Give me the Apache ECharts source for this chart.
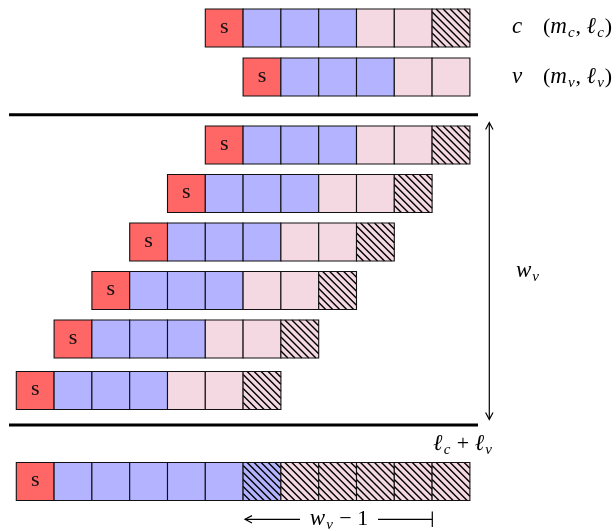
<!DOCTYPE html>
<html><head><meta charset="utf-8">
<style>html,body{margin:0;padding:0;background:#fff}#c{width:616px;height:531px}</style>
<script src="https://cdn.jsdelivr.net/npm/echarts@6/dist/echarts.min.js"></script>
</head><body><div id="c"></div>
<script>
// ---- data ----
const rowNames   = ['c', 'v', 'w1', 'w2', 'w3', 'w4', 'w5', 'w6', 'sum'];
const rowOffsets = [5, 6, 5, 4, 3, 2, 1, 0, 0];
const rowCells   = ['SBBBPPH', 'SBBBPP', 'SBBBPPH', 'SBBBPPH', 'SBBBPPH', 'SBBBPPH', 'SBBBPPH', 'SBBBPPH', 'SBBBBBXHHHHH'];
const cellLabel  = 's';

// ---- layout ----
const rowTops = [9, 58, 126, 174.5, 223, 271.5, 320, 371.5, 462.5];
const CELL_W = 37.8, CELL_H = 38, X0 = 16.3, W = 616, H = 531;
const typeStyle = {
  S: {fill: '#ff6666', hatch: false, label: true},
  B: {fill: '#b3b3ff', hatch: false},
  P: {fill: '#f5d9e2', hatch: false},
  H: {fill: '#f5d9e2', hatch: true},
  X: {fill: '#b3b3ff', hatch: true}
};
const typeKeys = Object.keys(typeStyle);

const data = [];
rowCells.forEach((cells, r) => {
  cells.split('').forEach((t, i) => {
    data.push([rowOffsets[r] + i, rowTops[r], typeKeys.indexOf(t), r]);
  });
});

const fam = 'Liberation Serif';
function renderItem(params, api) {
  const col = api.value(0), top = api.value(1), t = typeKeys[api.value(2)];
  const st = typeStyle[t];
  const p0 = api.coord([col, top]);
  const p1 = api.coord([col + 1, top + CELL_H]);
  const x = p0[0], y = p0[1], w = p1[0] - p0[0], h = p1[1] - p0[1];
  const children = [{
    type: 'rect', shape: {x, y, width: w, height: h},
    style: {fill: st.fill, stroke: 'none'}
  }];
  if (st.hatch) {
    const d = 7;
    for (let k = -Math.ceil(w / d); k <= Math.ceil(h / d); k++) {
      const c = k * d + 3;
      const u0 = Math.max(0, -c), u1 = Math.min(w, h - c);
      if (u1 - u0 > 0.5) {
        children.push({type: 'line', shape: {x1: x + u0, y1: y + u0 + c, x2: x + u1, y2: y + u1 + c},
          style: {stroke: '#000', lineWidth: 1.4}});
      }
    }
  }
  children.push({type: 'rect', shape: {x, y, width: w, height: h},
    style: {fill: 'none', stroke: '#111', lineWidth: 1.1}});
  if (st.label) {
    children.push({type: 'text', style: {text: cellLabel, x: x + w / 2, y: y + h / 2 - 1,
      align: 'center', verticalAlign: 'middle', font: 'normal 22px "Liberation Serif", serif', fill: '#111'}});
  }
  return {type: 'group', children};
}

const rich = {
  i: {fontFamily: fam, fontStyle: 'italic', fontSize: 23, lineHeight: 28, color: '#111', padding: [0, 1, 0, 0]},
  r: {fontFamily: fam, fontSize: 22, lineHeight: 28, color: '#111'},
  s: {fontFamily: fam, fontStyle: 'italic', fontSize: 15, lineHeight: 16, verticalAlign: 'bottom', color: '#111', padding: [0, 1, 0, 0]}
};
function txt(text, x, y, align) {
  return {type: 'text', x, y, style: {text, rich, fontFamily: fam, align: align || 'left', verticalAlign: 'middle'}};
}
const ln = (x1, y1, x2, y2, lw) => ({type: 'line', shape: {x1, y1, x2, y2}, style: {stroke: '#000', lineWidth: lw || 1.2}});
const pl = (pts) => ({type: 'polyline', shape: {points: pts}, style: {stroke: '#000', lineWidth: 1.2, fill: 'none'}});

const chart = echarts.init(document.getElementById('c'), null, {renderer: 'canvas'});
chart.setOption({
  animation: false,
  backgroundColor: '#fff',
  textStyle: {fontFamily: fam},
  grid: {left: 0, right: 0, top: 0, bottom: 0},
  xAxis: {type: 'value', min: -X0 / CELL_W, max: (W - X0) / CELL_W, show: false},
  yAxis: {type: 'value', min: 0, max: H, inverse: true, show: false},
  series: [{type: 'custom', renderItem, data, clip: false}],
  graphic: [
    ln(9, 114.7, 478, 114.7, 3),
    ln(9, 425, 478, 425, 3),
    ln(489.3, 123, 489.3, 419),
    pl([[485.6, 129.5], [489.3, 122.5], [493, 129.5]]),
    pl([[485.6, 412.5], [489.3, 419.5], [493, 412.5]]),
    ln(245.5, 519.3, 300, 519.3),
    pl([[252, 515.6], [245, 519.3], [252, 523]]),
    ln(378, 519.3, 432.3, 519.3),
    ln(432.3, 511.5, 432.3, 527),
    txt('{i|c}', 512, 27),
    txt('{r|(}{i|m}{s|c}{r|, }{i|ℓ}{s|c}{r|)}', 543, 27),
    txt('{i|v}', 512, 77),
    txt('{r|(}{i|m}{s|v}{r|, }{i|ℓ}{s|v}{r|)}', 543, 77),
    txt('{i|w}{s|v}', 516, 271),
    txt('{i|ℓ}{s|c}{r| + }{i|ℓ}{s|v}', 463, 444, 'center'),
    txt('{i|w}{s|v}{r| − 1}', 339, 519, 'center')
  ]
});
</script></body></html>
